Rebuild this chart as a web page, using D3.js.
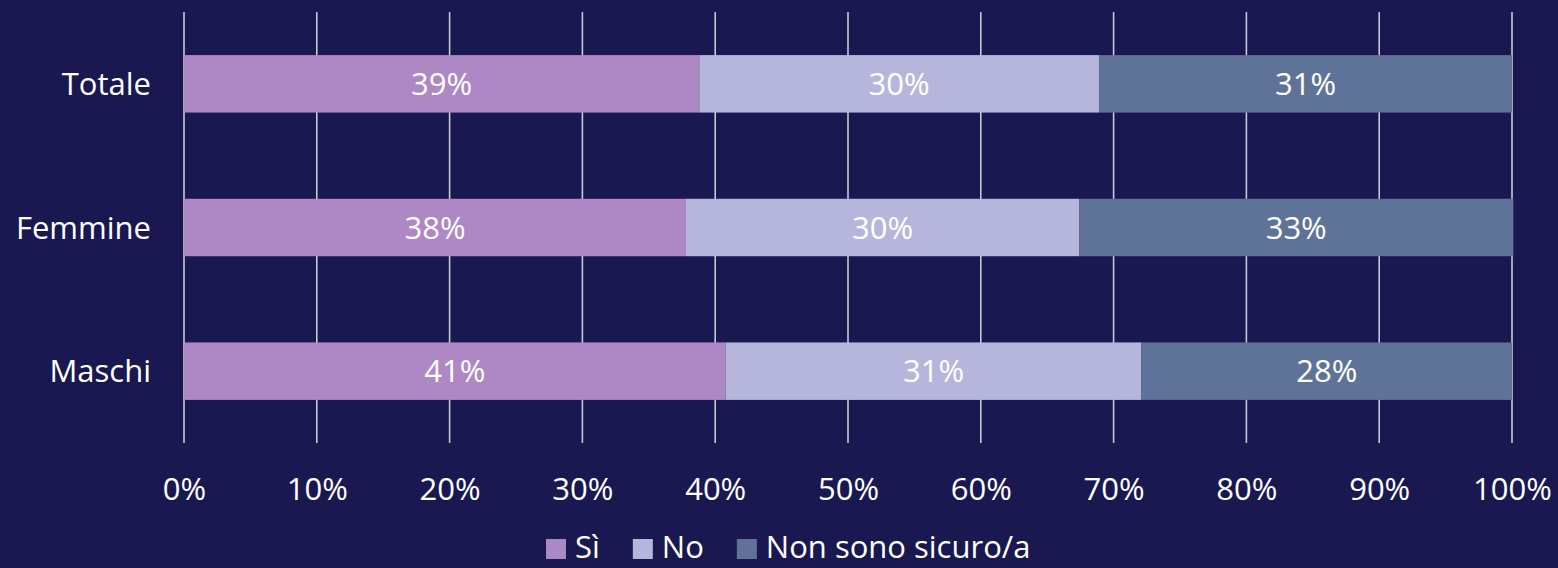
<!DOCTYPE html>
<html>
<head>
<meta charset="utf-8">
<script src="https://cdn.jsdelivr.net/npm/d3@7"></script>
<style>
  html, body { margin: 0; padding: 0; background: #1A1850; }
  svg { display: block; }
  text { font-family: "Open Sans", Roboto, sans-serif; fill: #FFFFFF; }
</style>
</head>
<body>
<svg id="chart" width="1558" height="568"></svg>
<script>
const categories = ["Totale", "Femmine", "Maschi"];
const seriesNames = ["Sì", "No", "Non sono sicuro/a"];
const siValues = [38.8, 37.8, 40.8];
const noValues = [30.1, 29.6, 31.3];
const nonSicuroValues = [31.1, 32.7, 27.9];
const siLabels = ["39%", "38%", "41%"];
const noLabels = ["30%", "30%", "31%"];
const nonSicuroLabels = ["31%", "33%", "28%"];
const colors = ["#AE87C5", "#B6B6DD", "#5F7398"];
const xTicks = [0, 10, 20, 30, 40, 50, 60, 70, 80, 90, 100];

const svg = d3.select("#chart");
const W = 1558, H = 568;
const margin = { left: 184, right: 46, top: 12, bottom: 125 };
const plotW = W - margin.left - margin.right;
const plotH = H - margin.top - margin.bottom;

const x = d3.scaleLinear().domain([0, 100]).range([margin.left, margin.left + plotW]);
const y = d3.scaleBand().domain(categories).range([margin.top, margin.top + plotH]).paddingInner(0.6).paddingOuter(0.3);

const fontSize = 31;

// gridlines
svg.append("g").selectAll("line").data(xTicks).join("line")
  .attr("x1", d => x(d)).attr("x2", d => x(d))
  .attr("y1", margin.top).attr("y2", margin.top + plotH)
  .attr("stroke", "#C8C8D2").attr("stroke-width", 1.6);

// stacked data
const rows = categories.map((c, i) => ({
  cat: c,
  vals: [siValues[i], noValues[i], nonSicuroValues[i]],
  labels: [siLabels[i], noLabels[i], nonSicuroLabels[i]]
}));
const segs = [];
rows.forEach(r => {
  let acc = 0;
  r.vals.forEach((v, k) => {
    segs.push({ cat: r.cat, k, x0: acc, x1: acc + v, label: r.labels[k] });
    acc += v;
  });
});

svg.append("g").selectAll("rect").data(segs).join("rect")
  .attr("x", d => x(d.x0))
  .attr("width", d => x(d.x1) - x(d.x0))
  .attr("y", d => y(d.cat))
  .attr("height", y.bandwidth())
  .attr("fill", d => colors[d.k]);

svg.append("g").selectAll("text").data(segs).join("text")
  .attr("x", d => (x(d.x0) + x(d.x1)) / 2)
  .attr("y", d => y(d.cat) + y.bandwidth() / 2)
  .attr("dy", "0.36em")
  .attr("text-anchor", "middle")
  .style("font-size", fontSize + "px")
  .text(d => d.label);

// category labels
svg.append("g").selectAll("text").data(categories).join("text")
  .attr("x", margin.left - 33)
  .attr("y", d => y(d) + y.bandwidth() / 2)
  .attr("dy", "0.36em")
  .attr("text-anchor", "end")
  .style("font-size", fontSize + "px")
  .text(d => d);

// x axis labels
const xAxis = d3.axisBottom(x).tickValues(xTicks).tickFormat(d => d + "%").tickSize(0).tickPadding(0);
const gx = svg.append("g").attr("transform", `translate(0, 500)`).call(xAxis);
gx.select(".domain").remove();
gx.selectAll("text").attr("dy", 0).attr("y", 0)
  .style("font-size", fontSize + "px").attr("fill", "#FFFFFF")
  .style("font-family", "\"Open Sans\", Roboto, sans-serif");

// legend
const legend = svg.append("g");
let lx = 546;
seriesNames.forEach((name, i) => {
  legend.append("rect").attr("x", lx).attr("y", 539).attr("width", 20).attr("height", 20).attr("fill", colors[i]);
  const t = legend.append("text").attr("x", lx + 29).attr("y", 558)
    .style("font-size", "31px").text(name);
  const w = t.node().getComputedTextLength();
  lx = lx + 29 + w + 33;
});
</script>
</body>
</html>
